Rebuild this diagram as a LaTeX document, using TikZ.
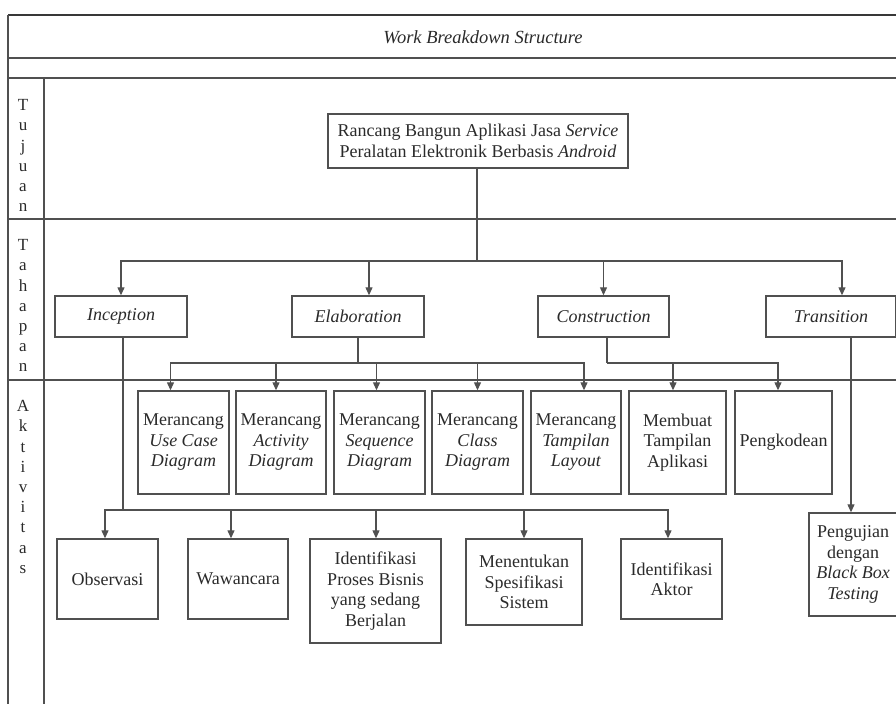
\documentclass[tikz,border=0pt]{standalone}
\usepackage{fontspec}
\setmainfont{Liberation Serif}
\usetikzlibrary{arrows.meta, calc, positioning}
\definecolor{garis}{HTML}{505050}
\definecolor{teks}{HTML}{2A2A2A}

\begin{document}
\begin{tikzpicture}[x=1pt, y=-1pt, font=\fontsize{18}{20.5}\selectfont, text=teks,
    bingkai/.style={draw=garis, line width=1.5pt},
    kotak/.style={draw=garis, line width=1.4pt, align=center, inner sep=0pt},
    tahap/.style={kotak, minimum width=132, minimum height=41, font=\fontsize{18}{20.5}\selectfont\itshape},
    atas/.style={kotak, minimum height=103},
    bawah/.style={kotak, minimum height=80},
    panah/.style={draw=garis, line width=1.2pt, -{Triangle[length=8pt, width=7pt]}},
    huruf/.style={anchor=north, align=center, font=\fontsize{17}{20.2}\selectfont}]
  \useasboundingbox (0,0) rectangle (896,704);
  % Bingkai tabel
  \draw[bingkai, line width=2pt, draw=garis!70!black] (896,15) -- (8,15);
  \draw[bingkai] (8,15) -- (8,704);
  \draw[bingkai] (44,78) -- (44,704);
  \foreach \y in {58,78,219,380}
    \draw[bingkai] (8,\y) -- (896,\y);
  \node[font=\fontsize{18.5}{20.5}\selectfont\itshape] (judul) at (483,37) {Work Breakdown Structure};
  % Label baris
  \node[huruf] (lbltujuan) at (23,96) {T\\u\\j\\u\\a\\n};
  \node[huruf] (lbltahapan) at (23,236) {T\\a\\h\\a\\p\\a\\n};
  \node[huruf] (lblaktivitas) at (23,397) {A\\k\\t\\i\\v\\i\\t\\a\\s};

  % Tujuan
  \node[kotak, minimum width=300, minimum height=54] (tujuan) at (478,141) {Rancang Bangun Aplikasi Jasa \textit{Service}\\Peralatan Elektronik Berbasis \textit{Android}};

  % Tahapan
  \node[tahap] (inception) at (121,316.5) {Inception};
  \node[tahap] (elaboration) at (358,316.5) {Elaboration};
  \node[tahap, minimum width=131] (construction) at (603.5,316.5) {Construction};
  \node[tahap, minimum width=130] (transition) at (831,316.5) {Transition};

  % Aktivitas Elaboration dan Construction
  \node[atas, minimum width=91] (usecase) at (183.5,442.5) {Merancang\\\textit{Use Case}\\\textit{Diagram}};
  \node[atas, minimum width=90] (activity) at (281,442.5) {Merancang\\\textit{Activity}\\\textit{Diagram}};
  \node[atas, minimum width=91] (sequence) at (379.5,442.5) {Merancang\\\textit{Sequence}\\\textit{Diagram}};
  \node[atas, minimum width=91] (class) at (477.5,442.5) {Merancang\\\textit{Class}\\\textit{Diagram}};
  \node[atas, minimum width=90] (layout) at (576,442.5) {Merancang\\\textit{Tampilan}\\\textit{Layout}};
  \node[atas, minimum width=97] (tampilan) at (677.5,442.5) {Membuat\\Tampilan\\Aplikasi};
  \node[atas, minimum width=97] (kode) at (783.5,442.5) {Pengkodean};

  % Aktivitas Inception dan Transition
  \node[bawah, minimum width=101] (observasi) at (107.5,579) {Observasi};
  \node[bawah, minimum width=100] (wawancara) at (238,579) {Wawancara};
  \node[kotak, minimum width=131, minimum height=104] (prosesbisnis) at (375.5,591) {Identifikasi\\Proses Bisnis\\yang sedang\\Berjalan};
  \node[kotak, minimum width=116, minimum height=86] (spesifikasi) at (524,582) {Menentukan\\Spesifikasi\\Sistem};
  \node[bawah, minimum width=101] (aktor) at (671.5,579) {Identifikasi\\Aktor};
  \node[kotak, minimum width=88, minimum height=103] (pengujian) at (853,564.5) {Pengujian\\dengan\\\textit{Black Box}\\\textit{Testing}};

  % Garis penghubung
  \coordinate (bus1) at (477,261);
  \coordinate (bus2) at (0,363);
  \coordinate (bus3) at (0,510);
  \draw[bingkai, line width=1.2pt] (tujuan.south -| bus1) -- (bus1);
  \draw[panah] (bus1) -| (inception);
  \draw[panah] (bus1) -| ($(elaboration.north)+(11,0)$);
  \draw[panah] (bus1) -| (construction);
  \draw[panah] (bus1) -| ($(transition.north)+(11,0)$);

  \draw[bingkai, line width=1.2pt] (elaboration.south) -- (elaboration.south |- bus2);
  \foreach \n/\d in {usecase/-13, activity/-5, sequence/-3, class/0, layout/8}
    \draw[panah] (elaboration.south |- bus2) -| ($(\n.north)+(\d,0)$);

  \draw[bingkai, line width=1.2pt] ($(construction.south)+(3.5,0)$) -- ($(construction.south |- bus2)+(3.5,0)$);
  \foreach \n/\d in {tampilan/-4.5, kode/-5.5}
    \draw[panah] ($(construction.south |- bus2)+(3.5,0)$) -| ($(\n.north)+(\d,0)$);

  \draw[bingkai, line width=1.2pt] ($(inception.south)+(2,0)$) -- ($(inception.south |- bus3)+(2,0)$);
  \foreach \n/\d in {observasi/-2.5, wawancara/-7, prosesbisnis/0.5, spesifikasi/0, aktor/-3.5}
    \draw[panah] ($(inception.south |- bus3)+(2,0)$) -| ($(\n.north)+(\d,0)$);

  \draw[panah] ($(pengujian.north |- transition.south)+(-2,0)$) -- ($(pengujian.north)+(-2,0)$);
\end{tikzpicture}
\end{document}
